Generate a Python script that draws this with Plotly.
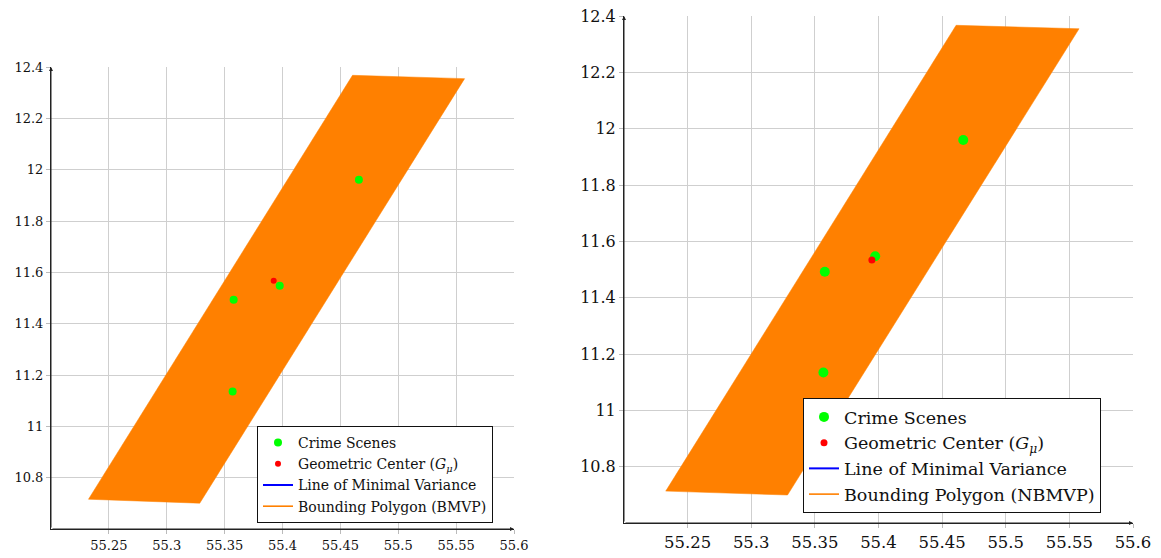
import plotly.graph_objects as go

# ---------------- data ----------------
# Left panel (BMVP)
scenes_x_L = [55.466, 55.3976, 55.3578, 55.3569]
scenes_y_L = [11.961, 11.548, 11.493, 11.136]
center_x_L = [55.3924]
center_y_L = [11.567]
poly_x_L = [55.4605, 55.5573, 55.3285, 55.2324, 55.4605]
poly_y_L = [12.3676, 12.3547, 10.7005, 10.716, 12.3676]

# Right panel (NBMVP)
scenes_x_R = [55.4666, 55.3974, 55.3578, 55.3567]
scenes_y_R = [11.9597, 11.547, 11.492, 11.1346]
center_x_R = [55.3948]
center_y_R = [11.5333]
poly_x_R = [55.461, 55.5576, 55.3285, 55.2328, 55.461]
poly_y_R = [12.367, 12.3547, 10.6994, 10.7132, 12.367]

x_ticks = [55.25, 55.3, 55.35, 55.4, 55.45, 55.5, 55.55, 55.6]
x_tick_labels = ["55.25", "55.3", "55.35", "55.4", "55.45", "55.5", "55.55", "55.6"]
y_ticks = [10.8, 11.0, 11.2, 11.4, 11.6, 11.8, 12.0, 12.2, 12.4]
y_tick_labels = ["10.8", "11", "11.2", "11.4", "11.6", "11.8", "12", "12.2", "12.4"]
x_range = [55.2, 55.6]
y_range = [10.6, 12.4]

labels = ["Crime Scenes", "Geometric Center (<i>G</i><sub><i>μ</i></sub>)",
          "Line of Minimal Variance"]
poly_label_L = "Bounding Polygon (BMVP)"
poly_label_R = "Bounding Polygon (NBMVP)"

GREEN = "#00ff00"
RED = "#ff0000"
ORANGE = "#ff8000"
BLUE = "#0000ff"
FONT = "DejaVu Serif"

fig = go.Figure()


def add_panel(xa, ya, leg, px, py, sx, sy, cx, cy, poly_label, gsize, rsize, lw):
    fig.add_trace(go.Scatter(x=px, y=py, mode="lines", fill="toself",
                             fillcolor=ORANGE, line=dict(color=ORANGE, width=0.5),
                             showlegend=False, xaxis=xa, yaxis=ya, hoverinfo="skip"))
    fig.add_trace(go.Scatter(x=sx, y=sy, mode="markers", name=labels[0],
                             marker=dict(color=GREEN, size=gsize),
                             xaxis=xa, yaxis=ya, legend=leg))
    fig.add_trace(go.Scatter(x=cx, y=cy, mode="markers", name=labels[1],
                             marker=dict(color=RED, size=rsize),
                             xaxis=xa, yaxis=ya, legend=leg))
    fig.add_trace(go.Scatter(x=[None], y=[None], mode="lines", name=labels[2],
                             line=dict(color=BLUE, width=lw),
                             xaxis=xa, yaxis=ya, legend=leg))
    fig.add_trace(go.Scatter(x=[None], y=[None], mode="lines", name=poly_label,
                             line=dict(color=ORANGE, width=lw * 0.8),
                             xaxis=xa, yaxis=ya, legend=leg))


add_panel("x", "y", "legend", poly_x_L, poly_y_L, scenes_x_L, scenes_y_L,
          center_x_L, center_y_L, poly_label_L, 8, 6, 2)
add_panel("x2", "y2", "legend2", poly_x_R, poly_y_R, scenes_x_R, scenes_y_R,
          center_x_R, center_y_R, poly_label_R, 10, 7, 2)

# page body has an 8px margin: figure coordinates = picture coordinates - 8
OFF = 8
W, H = 1161 - OFF, 558 - OFF


def px_x(p):
    return (p - OFF) / W


def px_y(p):
    return 1 - (p - OFF) / H


def axis_common(fs):
    return dict(showgrid=True, gridcolor="#cfcfcf", gridwidth=1,
                showline=True, linecolor="#222222", linewidth=1,
                ticks="outside", ticklen=4, tickcolor="#bbbbbb",
                zeroline=False, automargin=False, ticklabeloverflow="allow",
                tickfont=dict(family=FONT, size=fs, color="#111"),
                layer="below traces")


xa1 = axis_common(13)
xa1.update(domain=[px_x(51), px_x(514)], range=x_range, tickvals=x_ticks,
           ticktext=x_tick_labels, anchor="y")
ya1 = axis_common(13)
ya1.update(domain=[px_y(529), px_y(67)], range=y_range, tickvals=y_ticks,
           ticktext=y_tick_labels, anchor="x")
xa2 = axis_common(16.5)
xa2.update(domain=[px_x(624), px_x(1133)], range=x_range, tickvals=x_ticks,
           ticktext=x_tick_labels, anchor="y2")
ya2 = axis_common(16)
ya2.update(domain=[px_y(523), px_y(16)], range=y_range, tickvals=y_ticks,
           ticktext=y_tick_labels, anchor="x2")

arrows = []
for xr, yr in (("x", "y"), ("x2", "y2")):
    arrows.append(dict(x=x_range[1], y=y_range[0], ax=x_range[0], ay=y_range[0],
                       xref=xr, yref=yr, axref=xr, ayref=yr, text="",
                       showarrow=True, arrowhead=2, arrowsize=0.8, arrowwidth=1,
                       arrowcolor="#222222"))
    arrows.append(dict(x=x_range[0], y=y_range[1], ax=x_range[0], ay=y_range[0],
                       xref=xr, yref=yr, axref=xr, ayref=yr, text="",
                       showarrow=True, arrowhead=2, arrowsize=0.8, arrowwidth=1,
                       arrowcolor="#222222"))

fig.update_layout(
    template="none",
    width=W, height=H,
    margin=dict(l=0, r=0, t=0, b=0, pad=0),
    paper_bgcolor="white", plot_bgcolor="white",
    font=dict(family=FONT, color="#111"),
    xaxis=xa1, yaxis=ya1, xaxis2=xa2, yaxis2=ya2,
    annotations=arrows,
    legend=dict(x=px_x(257), y=px_y(426), xanchor="left", yanchor="top",
                bgcolor="white", bordercolor="#111", borderwidth=1,
                font=dict(family=FONT, size=14), itemwidth=30,
                tracegroupgap=0),
    legend2=dict(x=px_x(803), y=px_y(398), xanchor="left", yanchor="top",
                 bgcolor="white", bordercolor="#111", borderwidth=1,
                 font=dict(family=FONT, size=17.5), itemwidth=30,
                 tracegroupgap=0),
    showlegend=True,
)

fig.write_html("out.html")
